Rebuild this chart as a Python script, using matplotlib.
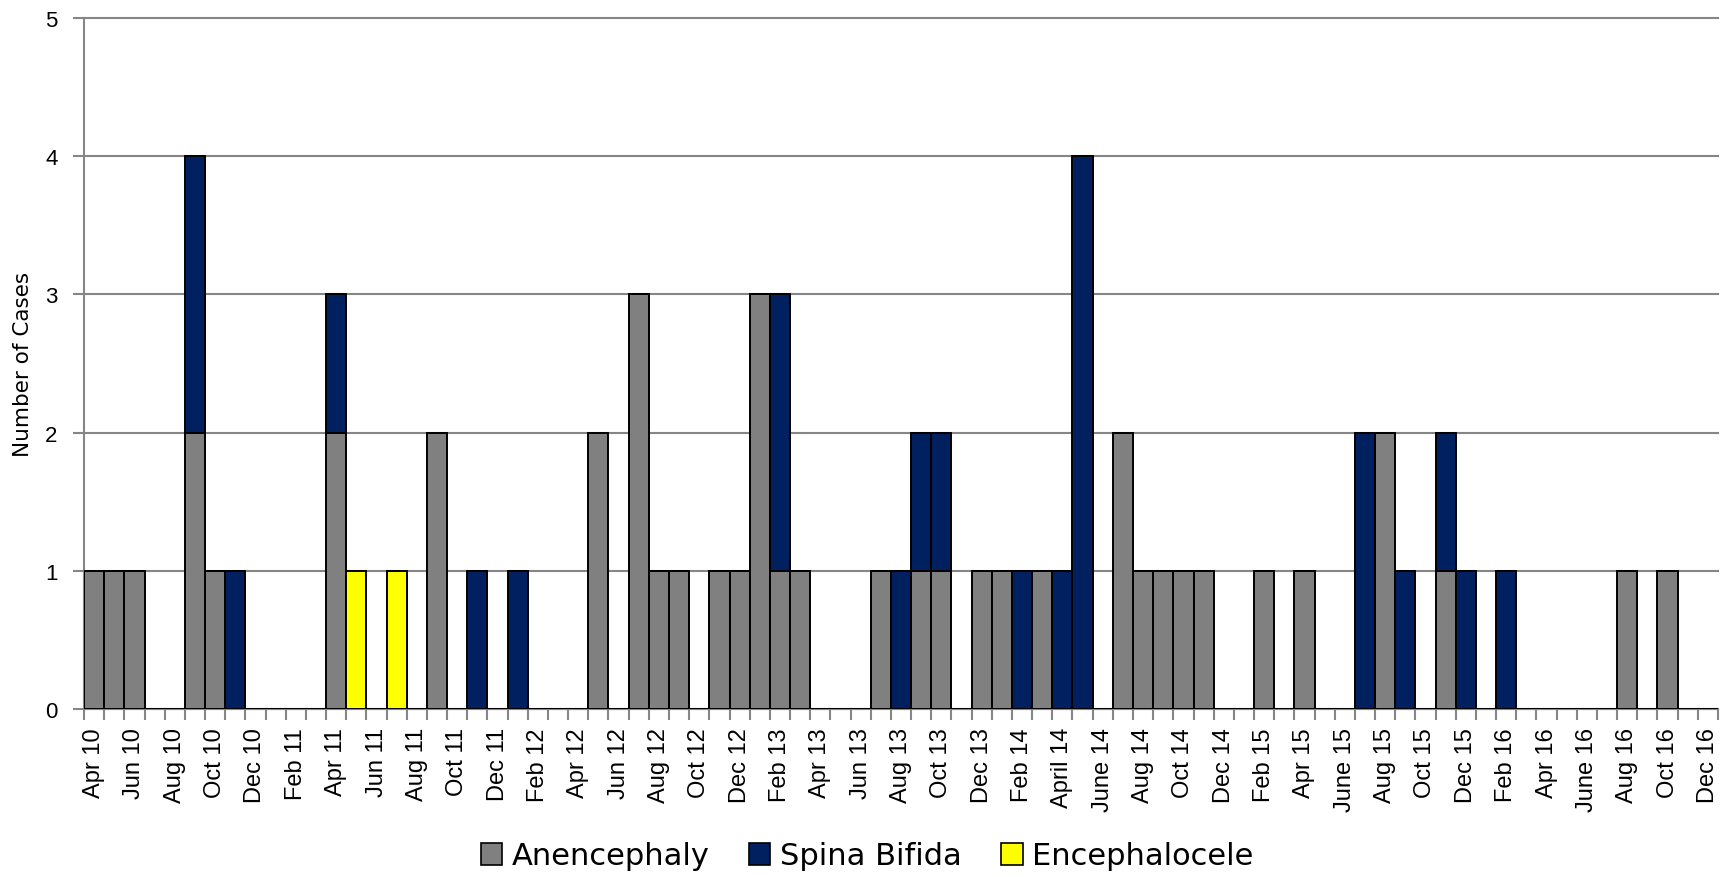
import matplotlib
matplotlib.use("Agg")
import matplotlib.pyplot as plt
import numpy as np
from matplotlib import font_manager as fm
from matplotlib.patches import Patch

# one entry per month, Apr 2010 .. Dec 2016 (81 months), rows = Apr..Mar
anencephaly = [
    1, 1, 1, 0, 0, 2, 1, 0, 0, 0, 0, 0,
    2, 0, 0, 0, 0, 2, 0, 0, 0, 0, 0, 0,
    0, 2, 0, 3, 1, 1, 0, 1, 1, 3, 1, 1,
    0, 0, 0, 1, 0, 1, 1, 0, 1, 1, 0, 1,
    0, 0, 0, 2, 1, 1, 1, 1, 0, 0, 1, 0,
    1, 0, 0, 0, 2, 0, 0, 1, 0, 0, 0, 0,
    0, 0, 0, 0, 1, 0, 1, 0, 0,
]
spina_bifida = [
    0, 0, 0, 0, 0, 2, 0, 1, 0, 0, 0, 0,
    1, 0, 0, 0, 0, 0, 0, 1, 0, 1, 0, 0,
    0, 0, 0, 0, 0, 0, 0, 0, 0, 0, 2, 0,
    0, 0, 0, 0, 1, 1, 1, 0, 0, 0, 1, 0,
    1, 4, 0, 0, 0, 0, 0, 0, 0, 0, 0, 0,
    0, 0, 0, 2, 0, 1, 0, 1, 1, 0, 1, 0,
    0, 0, 0, 0, 0, 0, 0, 0, 0,
]
encephalocele = [
    0, 0, 0, 0, 0, 0, 0, 0, 0, 0, 0, 0,
    0, 1, 0, 1, 0, 0, 0, 0, 0, 0, 0, 0,
    0, 0, 0, 0, 0, 0, 0, 0, 0, 0, 0, 0,
    0, 0, 0, 0, 0, 0, 0, 0, 0, 0, 0, 0,
    0, 0, 0, 0, 0, 0, 0, 0, 0, 0, 0, 0,
    0, 0, 0, 0, 0, 0, 0, 0, 0, 0, 0, 0,
    0, 0, 0, 0, 0, 0, 0, 0, 0,
]
# labels shown on every second month
tick_labels = [
    "Apr 10", "Jun 10", "Aug 10", "Oct 10", "Dec 10",
    "Feb 11", "Apr 11", "Jun 11", "Aug 11", "Oct 11", "Dec 11",
    "Feb 12", "Apr 12", "Jun 12", "Aug 12", "Oct 12", "Dec 12",
    "Feb 13", "Apr 13", "Jun 13", "Aug 13", "Oct 13", "Dec 13",
    "Feb 14", "April 14", "June 14", "Aug 14", "Oct 14", "Dec 14",
    "Feb 15", "Apr 15", "June 15", "Aug 15", "Oct 15", "Dec 15",
    "Feb 16", "Apr 16", "June 16", "Aug 16", "Oct 16", "Dec 16",
]
series_names = ["Anencephaly", "Spina Bifida", "Encephalocele"]
colors = ["#808080", "#002060", "#FFFF00"]

REG = ["Liberation Sans", "DejaVu Sans"]
GRID = "#868686"

# narrow face for legend / axis title if one is around
try:
    fm.findfont(fm.FontProperties(family="DejaVu Sans Condensed"), fallback_to_default=False)
    NARROW, k = ["DejaVu Sans Condensed"], 1.1
except ValueError:
    NARROW, k = ["DejaVu Sans"], 1.0

a = np.array(anencephaly)
s = np.array(spina_bifida)
e = np.array(encephalocele)
x = np.arange(len(a))

fig = plt.figure(figsize=(17.34, 8.78), dpi=100)
ax = fig.add_axes([84 / 1734, 1 - 710 / 878, 1634 / 1734, 691 / 878])

kw = dict(width=1.0, edgecolor="black", linewidth=1.4, zorder=3)
ax.bar(x, a, color=colors[0], **kw)
ax.bar(x, s, bottom=a, color=colors[1], **kw)
ax.bar(x, e, bottom=a + s, color=colors[2], **kw)

ax.set_xlim(-0.5, len(a) - 0.5)
ax.set_ylim(0, 5)
ax.set_yticks(range(6))
ax.yaxis.grid(True, color=GRID, linewidth=1.5, clip_on=False)
ax.set_axisbelow(True)

for sp in ["top", "right"]:
    ax.spines[sp].set_visible(False)
for sp in ["left", "bottom"]:
    ax.spines[sp].set_color(GRID)
    ax.spines[sp].set_linewidth(1.5)

ax.set_xticks(x[::2])
ax.set_xticklabels(tick_labels, rotation=90, family=REG, fontsize=17)
ax.set_xticks(np.arange(-0.5, len(a), 1), minor=True)
ax.tick_params(axis="x", which="major", length=0, pad=13)
ax.tick_params(axis="x", which="minor", length=8, width=1.5, color=GRID)
ax.tick_params(axis="y", length=8, width=1.5, color=GRID, pad=11)
for lab in ax.get_yticklabels():
    lab.set_family(REG)
    lab.set_fontsize(16)

ax.set_ylabel("Number of Cases", family=NARROW, fontsize=15.5 * k)
ax.yaxis.set_label_coords(-0.031, 0.5)

handles = [Patch(facecolor=c, edgecolor="black", linewidth=1.2) for c in colors]
fig.legend(handles, series_names, loc="center", bbox_to_anchor=(0.5, 21 / 878),
           ncol=3, frameon=False, prop={"family": NARROW, "size": 22 * k},
           handlelength=0.7, handleheight=0.7, handletextpad=0.3,
           columnspacing=1.3)

fig.savefig("out.png", dpi=100)
